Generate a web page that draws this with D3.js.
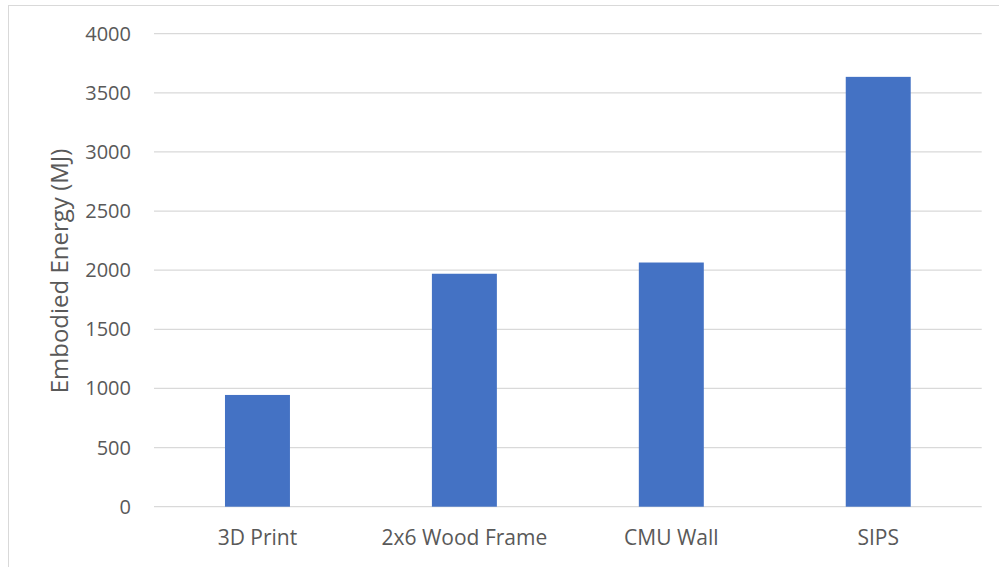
<!DOCTYPE html>
<html>
<head>
<meta charset="utf-8">
<script src="https://cdn.jsdelivr.net/npm/d3@7"></script>
<style>
  body { margin: 0; background: #fff; }
  text { font-family: "Open Sans", sans-serif; fill: #595959; }
</style>
</head>
<body>
<svg id="chart" width="999" height="567"></svg>
<script>
'use strict';
var categories = ['3D Print', '2x6 Wood Frame', 'CMU Wall', 'SIPS'];
var energyValues = [945, 1970, 2065, 3635];
var yTicks = [0, 500, 1000, 1500, 2000, 2500, 3000, 3500, 4000];

var svg = d3.select('#chart');
var margin = { top: 33.7, left: 154, right: 17.3, bottom: 60.3 };
var width = 999, height = 567;

// outer chart border
svg.append('rect')
  .attr('x', 8.5).attr('y', 5.5)
  .attr('width', 1100).attr('height', 700)
  .attr('fill', 'none')
  .attr('stroke', '#d9d9d9');

var x = d3.scaleBand()
  .domain(categories)
  .range([margin.left, width - margin.right])
  .paddingInner(0.686)
  .paddingOuter(0.343);

var y = d3.scaleLinear()
  .domain([0, 4000])
  .range([height - margin.bottom, margin.top]);

// gridlines
svg.append('g')
  .selectAll('line')
  .data(yTicks)
  .enter()
  .append('line')
  .attr('x1', margin.left)
  .attr('x2', width - margin.right)
  .attr('y1', function (d) { return y(d); })
  .attr('y2', function (d) { return y(d); })
  .attr('stroke', '#d9d9d9')
  .attr('stroke-width', 1.3);

// bars
svg.append('g')
  .selectAll('rect')
  .data(energyValues)
  .enter()
  .append('rect')
  .attr('x', function (d, i) { return x(categories[i]); })
  .attr('width', x.bandwidth())
  .attr('y', function (d) { return y(d); })
  .attr('height', function (d) { return y(0) - y(d); })
  .attr('fill', '#4472c4');

// y tick labels
svg.append('g')
  .selectAll('text')
  .data(yTicks)
  .enter()
  .append('text')
  .attr('x', 131)
  .attr('y', function (d) { return y(d); })
  .attr('dy', '0.35em')
  .attr('text-anchor', 'end')
  .attr('font-size', 20)
  .text(function (d) { return d; });

// x category labels
svg.append('g')
  .selectAll('text')
  .data(categories)
  .enter()
  .append('text')
  .attr('x', function (d) { return x(d) + x.bandwidth() / 2; })
  .attr('y', 545)
  .attr('text-anchor', 'middle')
  .attr('font-size', 21)
  .text(function (d) { return d; });

// y axis title
svg.append('text')
  .attr('transform', 'translate(68,271) rotate(-90)')
  .attr('text-anchor', 'middle')
  .attr('font-size', 24)
  .text('Embodied Energy (MJ)');
</script>
</body>
</html>
